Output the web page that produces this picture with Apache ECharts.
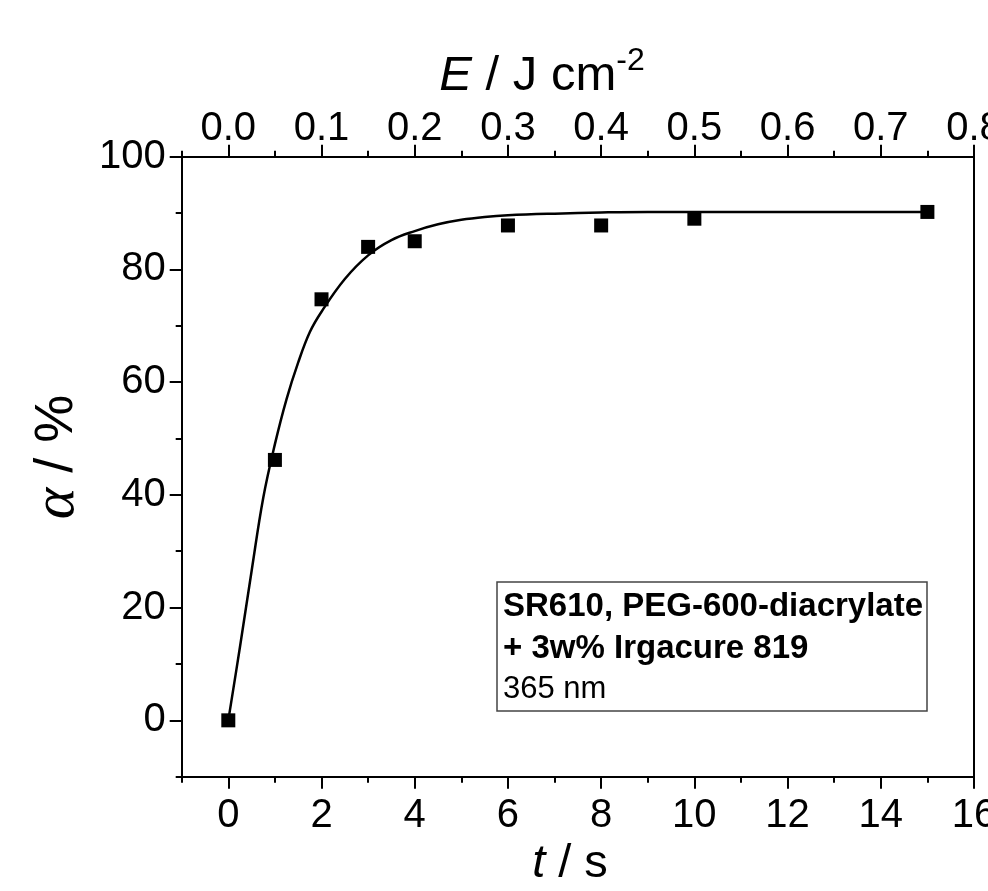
<!DOCTYPE html>
<html>
<head>
<meta charset="utf-8">
<script src="https://cdn.jsdelivr.net/npm/echarts@6/dist/echarts.min.js"></script>
<style>
html,body{margin:0;padding:0;background:#fff;}
#chart{width:988px;height:891px;}
</style>
</head>
<body>
<div id="chart"></div>
<script>
// Measured data points (t in s, conversion alpha in %)
const pointT = [0, 1, 2, 3, 4, 6, 8, 10, 15];
const pointAlpha = [0, 46.2, 74.7, 84.0, 85.0, 87.8, 87.8, 89.0, 90.2];

// Fitted curve
const curveT = [0, 0.25, 0.5, 0.75, 1, 1.25, 1.5, 1.75, 2, 2.5, 3, 3.5, 4, 4.5, 5, 5.5, 6, 7, 8, 9, 10, 12, 15];
const curveAlpha = [0, 13, 26.5, 39.5, 49, 57, 63.5, 68.9, 72.5, 78.3, 82.5, 85.2, 86.8, 88, 88.8, 89.3, 89.6, 89.9, 90.1, 90.2, 90.2, 90.2, 90.2];

// Axis ranges / ticks
const tRange = [-1, 16];
const eRange = [-0.05, 0.8];
const alphaRange = [-10, 100];
const tMajor = 2, eMajor = 0.1, alphaMajor = 20;

// Texts
const legendLines = ['SR610, PEG-600-diacrylate', '+ 3w% Irgacure 819', '365 nm'];

const FONT = "'Liberation Sans', Arial, sans-serif";
const chart = echarts.init(document.getElementById('chart'), null, {renderer: 'canvas'});

const lineS = {color: '#000', width: 2};
const tickMinor = {show: true, inside: false, length: 6, lineStyle: {color: '#000', width: 2}};
const tickMajor = {show: true, inside: false, length: 12, lineStyle: {color: '#000', width: 2}};
const lbl = {color: '#000', fontFamily: FONT, fontSize: 40};

const L = 181.7, R = 14, T = 156.7, B = 114.3;
const pxPerT = (988 - R - L) / (tRange[1] - tRange[0]);
const pxPerA = (891 - B - T) / (alphaRange[1] - alphaRange[0]);

const option = {
  animation: false,
  backgroundColor: '#fff',
  grid: [
    {left: L, right: R, top: T, bottom: B, containLabel: false, outerBoundsMode: 'none'},
    {left: L + pxPerT * (0 - tRange[0]), right: R, top: T, bottom: B + pxPerA * (0 - alphaRange[0]), containLabel: false, outerBoundsMode: 'none'}
  ],
  xAxis: [
    {gridIndex: 0, type: 'value', position: 'bottom', min: tRange[0], max: tRange[1], interval: 1,
     axisLine: {show: true, onZero: false, lineStyle: lineS}, axisTick: tickMinor, axisLabel: {show: false}, splitLine: {show: false}},
    {gridIndex: 0, type: 'value', position: 'top', min: eRange[0], max: eRange[1], interval: 0.05,
     axisLine: {show: true, onZero: false, lineStyle: lineS}, axisTick: tickMinor, axisLabel: {show: false}, splitLine: {show: false}},
    {gridIndex: 1, type: 'value', position: 'bottom', offset: pxPerA * (0 - alphaRange[0]), min: 0, max: tRange[1], interval: tMajor,
     axisLine: {show: false, onZero: false}, axisTick: tickMajor, splitLine: {show: false},
     axisLabel: Object.assign({margin: 19, hideOverlap: false}, lbl)},
    {gridIndex: 1, type: 'value', position: 'top', min: 0, max: eRange[1], interval: eMajor,
     axisLine: {show: false, onZero: false}, axisTick: tickMajor, splitLine: {show: false},
     axisLabel: Object.assign({margin: 8, hideOverlap: false, formatter: v => v.toFixed(1)}, lbl)}
  ],
  yAxis: [
    {gridIndex: 0, type: 'value', position: 'left', min: alphaRange[0], max: alphaRange[1], interval: 10,
     axisLine: {show: true, onZero: false, lineStyle: lineS}, axisTick: tickMinor, axisLabel: {show: false}, splitLine: {show: false}},
    {gridIndex: 0, type: 'value', position: 'right', min: alphaRange[0], max: alphaRange[1], interval: 10,
     axisLine: {show: true, onZero: false, lineStyle: lineS}, axisTick: {show: false}, axisLabel: {show: false}, splitLine: {show: false}},
    {gridIndex: 1, type: 'value', position: 'left', offset: pxPerT * (0 - tRange[0]), min: 0, max: alphaRange[1], interval: alphaMajor,
     axisLine: {show: false, onZero: false}, axisTick: tickMajor, splitLine: {show: false},
     axisLabel: Object.assign({margin: 16}, lbl)}
  ],
  series: [
    {type: 'line', xAxisIndex: 0, yAxisIndex: 0, data: curveT.map((t, i) => [t, curveAlpha[i]]),
     showSymbol: false, smooth: 0.4, lineStyle: {color: '#000', width: 2.5}, z: 3},
    {type: 'scatter', xAxisIndex: 0, yAxisIndex: 0, data: pointT.map((t, i) => [t, pointAlpha[i]]),
     symbol: 'rect', symbolSize: 14, itemStyle: {color: '#000', opacity: 1}, z: 4}
  ],
  graphic: [
    {type: 'text', x: 542, y: 76, style: {
      text: '{i|E} / J cm{sup|-2}', fill: '#000', align: 'center', verticalAlign: 'middle',
      rich: {
        i: {fontFamily: FONT, fontSize: 49, fontStyle: 'italic', fill: '#000'},
        sup: {fontFamily: FONT, fontSize: 32, fill: '#000', verticalAlign: 'top', padding: [0, 0, 30, 0]}
      },
      font: '49px ' + FONT
    }},
    {type: 'text', x: 570, y: 864, style: {
      text: '{i|t} / s', fill: '#000', align: 'center', verticalAlign: 'middle',
      rich: {i: {fontFamily: FONT, fontSize: 47, fontStyle: 'italic', fill: '#000'}},
      font: '47px ' + FONT
    }},
    {type: 'text', x: 57, y: 457, rotation: Math.PI / 2, style: {
      text: '{a|α} / %', fill: '#000', align: 'center', verticalAlign: 'middle',
      rich: {a: {fontFamily: "'Liberation Serif', 'DejaVu Serif', serif", fontSize: 60, fontStyle: 'italic', fill: '#000'}},
      font: '54px ' + FONT
    }},
    {type: 'rect', shape: {x: 497, y: 582, width: 430, height: 129},
     style: {fill: '#fff', stroke: '#444', lineWidth: 1.5}, z: 10},
    {type: 'text', x: 503, y: 607, z: 11, style: {text: legendLines[0], fill: '#000', font: 'bold 33px ' + FONT, verticalAlign: 'middle'}},
    {type: 'text', x: 503, y: 649, z: 11, style: {text: legendLines[1], fill: '#000', font: 'bold 33px ' + FONT, verticalAlign: 'middle'}},
    {type: 'text', x: 503, y: 689, z: 11, style: {text: legendLines[2], fill: '#000', font: '31px ' + FONT, verticalAlign: 'middle'}}
  ]
};
chart.setOption(option);
</script>
</body>
</html>
